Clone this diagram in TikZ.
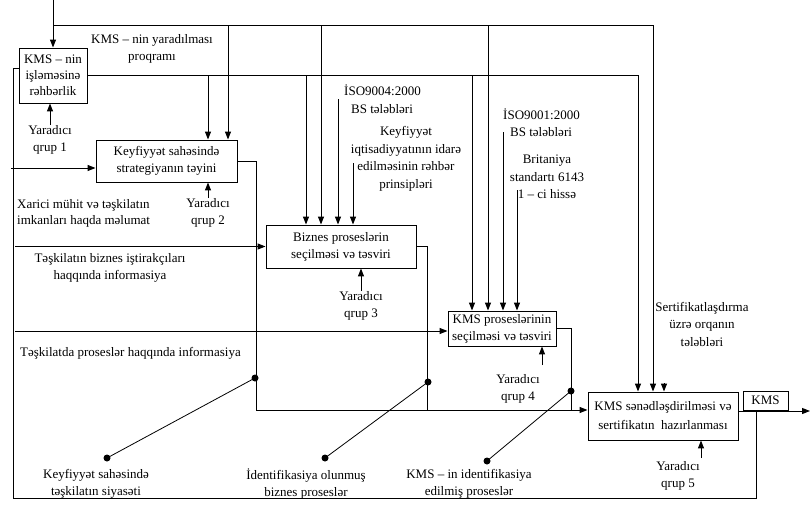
\documentclass[tikz,border=0pt]{standalone}
\usepackage{fontspec}
\setmainfont{Liberation Serif}
\usetikzlibrary{arrows.meta, positioning, calc}

\begin{document}
\begin{tikzpicture}[x=1pt, y=-1pt, font=\fontsize{13}{17.5}\selectfont, >={Triangle[length=8pt,width=6pt]}]
    \tikzset{
        proc/.style={draw, line width=0.9pt, align=center, inner sep=1pt},
        lbl/.style={align=center, inner sep=0pt},
        flow/.style={draw, line width=1pt},
        arr/.style={flow, ->},
        tag/.style={draw, line width=0.8pt},
    }
    \useasboundingbox (0,0) rectangle (811,511);

    \node[proc, minimum width=68pt, minimum height=55pt, font=\fontsize{13}{16}\selectfont] (lead) at (53,75.5) {KMS – nin\\işləməsinə\\rəhbərlik};
    \node[proc, minimum width=141pt, minimum height=42pt] (strat) at (166.5,161) {Keyfiyyət sahəsində\\strategiyanın təyini};
    \node[proc, minimum width=150pt, minimum height=43pt, font=\fontsize{13}{17}\selectfont] (biz) at (341,246.5) {Biznes proseslərin\\seçilməsi və təsviri};
    \node[proc, minimum width=108pt, minimum height=35pt, font=\fontsize{13}{17}\selectfont] (kmsp) at (502,328.5) {KMS proseslərinin\\seçilməsi və təsviri};
    \node[proc, minimum width=150pt, minimum height=48pt, font=\fontsize{13}{19}\selectfont] (cert) at (663,416) {KMS sənədləşdirilməsi və\\sertifikatın\ \ hazırlanması};
    \node[proc, minimum width=45pt, minimum height=19pt, inner sep=0pt] (res) at (765.5,400.5) {KMS};

    \node[lbl] (prgT) at (152,49) {KMS – nin yaradılması\\proqramı};
    \node[lbl, anchor=west, align=left] (iso4T) at (344,99) {İSO9004:2000\\\hspace*{7pt}BS tələbləri};
    \node[lbl] (econT) at (406,159) {Keyfiyyət\\iqtisadiyyatının idarə\\edilməsinin rəhbər\\prinsipləri};
    \node[lbl, anchor=west, align=left] (iso1T) at (503,122.5) {İSO9001:2000\\\hspace*{7pt}BS tələbləri};
    \node[lbl] (britT) at (547,177) {Britaniya\\standartı 6143\\1 – ci hissə};
    \node[lbl] (sreqT) at (702,324) {Sertifikatlaşdırma\\üzrə orqanın\\tələbləri};

    \node[lbl, anchor=west, align=left, font=\fontsize{13}{16}\selectfont] (extT) at (17,213) {Xarici mühit və təşkilatın\\imkanları haqda məlumat};
    \node[lbl] (partT) at (110,268) {Təşkilatın biznes iştirakçıları\\haqqında informasiya};
    \node[lbl, anchor=west] (procT) at (20,353) {Təşkilatda proseslər haqqında informasiya};

    \node[lbl] (g1) at (50,140) {Yaradıcı\\qrup 1};
    \node[lbl] (g2) at (208,213) {Yaradıcı\\qrup 2};
    \node[lbl] (g3) at (361,306) {Yaradıcı\\qrup 3};
    \node[lbl] (g4) at (518,389) {Yaradıcı\\qrup 4};
    \node[lbl] (g5) at (678,476) {Yaradıcı\\qrup 5};

    \node[lbl] (polT) at (96,484) {Keyfiyyət sahəsində\\təşkilatın siyasəti};
    \node[lbl] (idbT) at (306,484) {İdentifikasiya olunmuş\\biznes proseslər};
    \node[lbl] (idkT) at (469,484) {KMS – in identifikasiya\\edilmiş proseslər};

    \coordinate (top) at (53,0);
    \coordinate (prg) at (53,26);
    \coordinate (prgE) at (653,26);
    \coordinate (prg2) at (228,26);
    \coordinate (prg3) at (321,26);
    \coordinate (prg4) at (488,26);
    \draw[arr] (top) -- (lead.north);
    \draw[arr] (prg) -- (prgE) -- (prgE |- cert.north);
    \draw[arr] (prg2) -- (prg2 |- strat.north);
    \draw[arr] (prg3) -- (prg3 |- biz.north);
    \draw[arr] (prg4) -- (prg4 |- kmsp.north);

    \coordinate (ledE) at (638,75.5);
    \coordinate (led2) at (208,75.5);
    \coordinate (led3) at (306,75.5);
    \coordinate (led4) at (472,75.5);
    \draw[arr] (lead.east) -- (ledE) -- (ledE |- cert.north);
    \draw[arr] (led2) -- (led2 |- strat.north);
    \draw[arr] (led3) -- (led3 |- biz.north);
    \draw[arr] (led4) -- (led4 |- kmsp.north);

    \coordinate (iso4) at (338,99);
    \coordinate (econ) at (353,163);
    \coordinate (iso1) at (503,132);
    \coordinate (brit) at (517,190);
    \coordinate (sreq) at (664,383);
    \draw[arr] (iso4) -- (iso4 |- biz.north);
    \draw[arr] (econ) -- (econ |- biz.north);
    \draw[arr] (iso1) -- (iso1 |- kmsp.north);
    \draw[arr] (brit) -- (brit |- kmsp.north);
    \draw[arr] (sreq) -- (sreq |- cert.north);

    \coordinate (inA) at (11,168);
    \coordinate (inB) at (15,246.5);
    \coordinate (inC) at (15,331);
    \draw[arr] (inA) -- (inA -| strat.west);
    \draw[arr] (inB) -- (inB -| biz.west);
    \draw[arr] (inC) -- (inC -| kmsp.west);

    \draw[arr] (g1.north) -- (g1.north |- lead.south);
    \draw[arr] (g2.north) -- (g2.north |- strat.south);
    \draw[arr] (g3.north) -- (g3.north |- biz.south);
    \coordinate (m4) at (542,365);
    \coordinate (m5) at (701,458);
    \draw[arr] (m4) -- (m4 |- kmsp.south);
    \draw[arr] (m5) -- (m5 |- cert.south);

    \coordinate (o2) at (256,410);
    \coordinate (o3) at (427,410);
    \coordinate (o4) at (571,410);
    \draw[arr] (strat.east) -- (strat.east -| o2) -- (o2) -- (o2 -| cert.west);
    \draw[flow] (biz.east) -- (biz.east -| o3) -- (o3);
    \draw[flow] (kmsp.east) -- (kmsp.east -| o4) -- (o4);

    \coordinate (out) at (810,411);
    \coordinate (fb) at (756,411);
    \coordinate (fbL) at (13,498);
    \coordinate (fbT) at (13,69);
    \draw[arr] (out -| cert.east) -- (out);
    \draw[flow] (fb) -- (fb |- fbL) -- (fbL) -- (fbT) -- (fbT -| lead.west);

    \coordinate (d2) at (255,378);
    \coordinate (d2e) at (107,458);
    \coordinate (d3) at (428,382);
    \coordinate (d3e) at (325,458);
    \coordinate (d4) at (571,391);
    \coordinate (d4e) at (487,461);
    \draw[tag] (d2) -- (d2e);
    \draw[tag] (d3) -- (d3e);
    \draw[tag] (d4) -- (d4e);
    \foreach \p in {d2, d2e, d3, d3e, d4, d4e}
        \fill (\p) circle (3.5pt);
\end{tikzpicture}
\end{document}
